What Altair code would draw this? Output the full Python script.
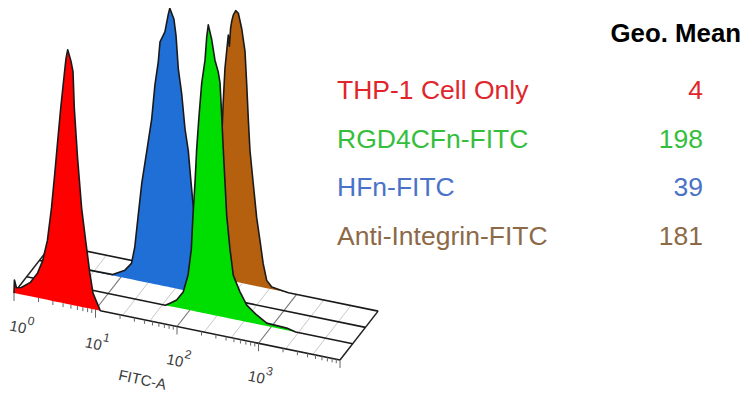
import altair as alt
import pandas as pd
import numpy as np

# ---------------- data ----------------
series_names = ["THP-1 Cell Only", "RGD4CFn-FITC", "HFn-FITC", "Anti-Integrin-FITC"]
geo_means = [4, 198, 39, 181]
fill_colors = ["#FF0000", "#00DD00", "#1F6FD6", "#B5600F"]
text_colors = ["#E0262C", "#35BE3C", "#4A72C8", "#8C6A48"]
depth_index = [0, 1, 2, 3]          # 0 = front, 3 = back

# histogram outlines: log10(FITC-A) and normalised count (% of mode)
red_log = [0, 0.005, 0.03, 0.09, 0.2, 0.29, 0.35, 0.41, 0.46, 0.50, 0.536, 0.573, 0.617,
           0.638, 0.659, 0.699, 0.724, 0.74, 0.78, 0.83, 0.88, 0.93, 0.97, 1.02, 1.06, 4.0]
red_cnt = [0, 4.5, 2, 2.4, 4.8, 8.6, 13, 20.5, 32, 44, 55.5, 67, 79,
           84.5, 87.7, 84, 80.5, 68, 51, 34, 23, 12.3, 5.5, 2.4, 0, 0]

green_log = [0, 1.70, 1.758, 1.84, 1.92, 1.98, 2.02, 2.04, 2.065, 2.086, 2.114, 2.147, 2.188,
             2.209, 2.228, 2.27, 2.31, 2.35, 2.372, 2.393, 2.412, 2.433, 2.454, 2.494, 2.535,
             2.617, 2.70, 2.822, 2.945, 3.19, 3.3, 4.0]
green_cnt = [0, 0, 1, 2.6, 5.8, 12, 21.2, 32.9, 44.2, 56.2, 67.5, 79.1, 87.3,
             95.5, 99.7, 94.9, 88, 84.2, 80.5, 69.2, 57.9, 46.6, 35.3, 24, 15.1,
             9.9, 5.8, 3.1, 1, 0.7, 0, 0]

blue_log = [0, 0.90, 1.05, 1.13, 1.17, 1.21, 1.255, 1.317, 1.378, 1.418, 1.459, 1.48, 1.54,
            1.58, 1.60, 1.65, 1.676, 1.704, 1.746, 1.786, 1.827, 1.856, 1.881, 1.92, 1.97,
            2.03, 2.12, 2.24, 2.40, 4.0]
blue_cnt = [0, 0.3, 2.7, 5.5, 11.3, 21.9, 33.6, 45.2, 56.8, 68.8, 77, 83.9, 87.7,
            93.8, 96.2, 92.8, 87.3, 76, 67.5, 55.8, 48.3, 39, 31.5, 21.9, 14,
            8.9, 4.8, 2.7, 0, 0]

brown_log = [0, 1.63, 1.75, 1.875, 1.94, 2.0, 2.035, 2.06, 2.085, 2.10, 2.121, 2.162, 2.175,
             2.19, 2.205, 2.223, 2.253, 2.285, 2.327, 2.367, 2.388, 2.407, 2.428, 2.469, 2.51,
             2.55, 2.59, 2.633, 2.695, 2.817, 2.9, 4.0]
brown_cnt = [0, 0, 1, 5.1, 11.3, 19.9, 30.1, 40.4, 51, 61.3, 72.9, 84.6, 80.8,
             87, 89.7, 91.8, 93.5, 92.8, 87.7, 80.1, 68.8, 57.2, 46.2, 34.9, 23.6,
             16.1, 8.2, 2.7, 0.8, 0.3, 0, 0]

axis_decades = [0, 1, 2, 3]
axis_max_decade = 4
axis_title = "FITC-A"
table_header = "Geo. Mean"

# ---------------- projection (oblique "3D offset" view) ----------------
X0, Y0 = 14, 293          # screen position of 10^0 on the front floor line
XDEC, YDEC = 81.5, 16.75  # screen shift per decade
XLAY, YLAY = 12.7, -16.3  # screen shift per depth layer
HS = 2.9                  # pixels per count unit
W, H = 734, 384
FONT = "Liberation Sans"

xs = alt.Scale(domain=[8, 8 + W], nice=False, zero=False)
ys = alt.Scale(domain=[8, 8 + H], nice=False, zero=False, reverse=True)

rows = []
for name, L, logs, cnts in zip(series_names, depth_index,
                               [red_log, green_log, blue_log, brown_log],
                               [red_cnt, green_cnt, blue_cnt, brown_cnt]):
    for d, c in zip(logs, cnts):
        rows.append({"series": name, "layer": L, "logx": d, "cnt": c})
hist = pd.DataFrame(rows)

px_expr = f"{X0} + {XLAY}*datum.layer + {XDEC}*datum.logx"
pyb_expr = f"{Y0} + {YLAY}*datum.layer + {YDEC}*datum.logx"

layers = []

# floor depth grid lines
nlay = max(depth_index)
grid = pd.DataFrame({"k": list(range(3 * axis_max_decade + 1))})
gbase = alt.Chart(grid).transform_calculate(
    x1=f"{X0} + {XDEC}*datum.k/3",
    y1=f"{Y0} + {YDEC}*datum.k/3",
).transform_calculate(
    x2=f"datum.x1 + {nlay}*{XLAY}",
    y2=f"datum.y1 + {nlay}*{YLAY}",
)
genc = dict(x=alt.X("x1:Q", scale=xs, axis=None), y=alt.Y("y1:Q", scale=ys, axis=None),
            x2="x2:Q", y2="y2:Q")
layers.append(gbase.transform_filter("datum.k % 3 != 0").mark_rule(color="#c8c8c8", strokeWidth=1).encode(**genc))
layers.append(gbase.transform_filter(f"datum.k % 3 == 0 && datum.k > 0 && datum.k < {3*axis_max_decade}")
              .mark_rule(color="#7a7a7a", strokeWidth=1.2).encode(**genc))
layers.append(gbase.transform_filter(f"datum.k == 0 || datum.k == {3*axis_max_decade}")
              .mark_rule(color="#222222", strokeWidth=1.5).encode(**genc))

# histograms, back to front
for L in sorted(depth_index, reverse=True):
    i = depth_index.index(L)
    base = alt.Chart(hist).transform_filter(f"datum.layer == {L}").transform_calculate(
        px=px_expr, pyb=pyb_expr
    ).transform_calculate(pyt=f"datum.pyb - {HS}*datum.cnt")
    layers.append(base.mark_area(color=fill_colors[i], interpolate="linear").encode(
        x=alt.X("px:Q", scale=xs, axis=None),
        y=alt.Y("pyt:Q", scale=ys, axis=None),
        y2="pyb:Q"))
    layers.append(base.mark_line(color="#1a1a1a", strokeWidth=1.6, interpolate="linear",
                                 strokeJoin="round").encode(
        x=alt.X("px:Q", scale=xs, axis=None),
        y=alt.Y("pyt:Q", scale=ys, axis=None)))

# front axis ticks
tick_rows = []
for k in range(axis_max_decade):
    for m in range(1, 10):
        tick_rows.append({"d": k + np.log10(m), "major": int(m == 1)})
tick_rows.append({"d": float(axis_max_decade), "major": 1})
ticks = pd.DataFrame(tick_rows)
tbase = alt.Chart(ticks).transform_calculate(
    tx=f"{X0} + {XDEC}*datum.d", ty=f"{Y0} + {YDEC}*datum.d"
).transform_calculate(ty2="datum.ty + (datum.major ? 8 : 4)")
layers.append(tbase.mark_rule(color="#666666", strokeWidth=1).encode(
    x=alt.X("tx:Q", scale=xs, axis=None), y=alt.Y("ty:Q", scale=ys, axis=None), y2="ty2:Q"))

# decade labels 10^k
lab = pd.DataFrame({"k": axis_decades, "base": ["10"] * len(axis_decades),
                    "exp": [str(k) for k in axis_decades]})
lbase = alt.Chart(lab).transform_calculate(
    lx=f"max({X0} + {XDEC}*datum.k - 2, 18)", ly=f"{Y0} + {YDEC}*datum.k + 34"
).transform_calculate(ex="datum.lx + 13", ey="datum.ly - 6")
layers.append(lbase.mark_text(font=FONT, fontSize=15, color="#3a3a3a", angle=12,
                              align="center", baseline="middle").encode(
    x=alt.X("lx:Q", scale=xs, axis=None), y=alt.Y("ly:Q", scale=ys, axis=None), text="base:N"))
layers.append(lbase.mark_text(font=FONT, fontSize=12, color="#3a3a3a", angle=12,
                              align="center", baseline="middle").encode(
    x=alt.X("ex:Q", scale=xs, axis=None), y=alt.Y("ey:Q", scale=ys, axis=None), text="exp:N"))

# axis title
ttl = pd.DataFrame({"t": [axis_title], "d": [1.55]})
layers.append(alt.Chart(ttl).transform_calculate(
    x=f"{X0} + {XDEC}*datum.d + 2", y=f"{Y0} + {YDEC}*datum.d + 61"
).mark_text(font=FONT, fontSize=15, color="#3a3a3a", angle=12, align="center", baseline="middle").encode(
    x=alt.X("x:Q", scale=xs, axis=None), y=alt.Y("y:Q", scale=ys, axis=None), text="t:N"))

# table legend
leg = pd.DataFrame({"name": series_names, "gm": [str(v) for v in geo_means],
                    "row": list(range(len(series_names)))})
color_enc = alt.Color("name:N", scale=alt.Scale(domain=series_names, range=text_colors), legend=None)
lg = alt.Chart(leg).transform_calculate(ly="99 + 48.7*datum.row", lx="337", vx="703")
layers.append(lg.mark_text(font=FONT, fontSize=26.5, align="left", baseline="alphabetic").encode(
    x=alt.X("lx:Q", scale=xs, axis=None), y=alt.Y("ly:Q", scale=ys, axis=None),
    text="name:N", color=color_enc))
layers.append(lg.mark_text(font=FONT, fontSize=26.5, align="right", baseline="alphabetic").encode(
    x=alt.X("vx:Q", scale=xs, axis=None), y=alt.Y("ly:Q", scale=ys, axis=None),
    text="gm:N", color=color_enc))
hdr = pd.DataFrame({"t": [table_header]})
layers.append(alt.Chart(hdr).transform_calculate(hx="741", hy="42").mark_text(
    font=FONT, fontSize=25.8, fontWeight="bold", color="#000000", align="right", baseline="alphabetic"
).encode(x=alt.X("hx:Q", scale=xs, axis=None), y=alt.Y("hy:Q", scale=ys, axis=None), text="t:N"))

chart = alt.layer(*layers).properties(
    width=W, height=H, padding=0, autosize=alt.AutoSizeParams(type="none"),
    background="#ffffff"
).configure_view(strokeWidth=0)

chart.save("out.html", embed_options={"renderer": "svg", "actions": False})
